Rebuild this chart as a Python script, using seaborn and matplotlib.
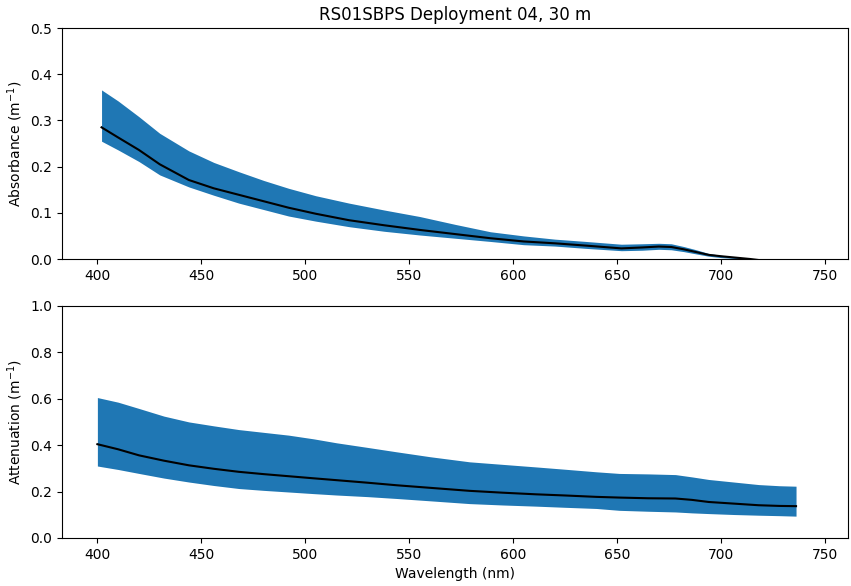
import matplotlib
matplotlib.use("Agg")
import matplotlib.pyplot as plt
import seaborn as sns
import numpy as np
import pandas as pd

# Absorbance (top panel)
abs_wl = [402, 410, 420, 430, 444, 456, 468, 480, 492, 505, 521, 538, 555, 572, 589,
          605, 620, 635, 652, 662, 670, 676, 682, 688, 694, 700, 707, 714, 725, 735]
abs_mean = [0.285, 0.263, 0.236, 0.205, 0.171, 0.153, 0.139, 0.125, 0.111, 0.098, 0.084,
            0.073, 0.063, 0.054, 0.045, 0.038, 0.034, 0.029, 0.023, 0.025, 0.027, 0.026,
            0.021, 0.015, 0.009, 0.006, 0.003, 0.0, -0.006, -0.012]
abs_upper = [0.366, 0.342, 0.308, 0.272, 0.234, 0.209, 0.189, 0.170, 0.153, 0.137, 0.121,
             0.106, 0.092, 0.075, 0.059, 0.050, 0.043, 0.038, 0.032, 0.033, 0.034, 0.033,
             0.027, 0.020, 0.012, 0.008, 0.004, 0.0, -0.004, -0.010]
abs_lower = [0.255, 0.236, 0.211, 0.182, 0.156, 0.138, 0.121, 0.107, 0.093, 0.082, 0.070,
             0.060, 0.052, 0.045, 0.038, 0.031, 0.028, 0.023, 0.018, 0.019, 0.021, 0.020,
             0.016, 0.011, 0.006, 0.003, 0.001, -0.002, -0.009, -0.015]

# Attenuation (bottom panel)
att_wl = [400, 410, 420, 432, 444, 456, 468, 480, 492, 504, 515, 530, 544, 560, 579,
          595, 611, 625, 640, 651, 665, 678, 686, 694, 706, 718, 728, 736]
att_mean = [0.404, 0.382, 0.356, 0.333, 0.313, 0.298, 0.285, 0.275, 0.266, 0.257, 0.249,
            0.238, 0.227, 0.216, 0.203, 0.195, 0.188, 0.183, 0.177, 0.174, 0.171, 0.170,
            0.164, 0.155, 0.148, 0.141, 0.138, 0.137]
att_upper = [0.605, 0.585, 0.558, 0.525, 0.500, 0.483, 0.467, 0.455, 0.443, 0.427, 0.410,
             0.390, 0.371, 0.350, 0.328, 0.317, 0.306, 0.296, 0.285, 0.278, 0.276, 0.273,
             0.263, 0.252, 0.241, 0.230, 0.225, 0.223]
att_lower = [0.310, 0.295, 0.278, 0.258, 0.241, 0.226, 0.213, 0.205, 0.198, 0.191, 0.185,
             0.178, 0.170, 0.160, 0.148, 0.142, 0.137, 0.132, 0.127, 0.119, 0.115, 0.112,
             0.108, 0.105, 0.101, 0.098, 0.096, 0.094]

title = "RS01SBPS Deployment 04, 30 m"

fig = plt.figure(figsize=(8.51, 5.86), dpi=100)
ax1 = fig.add_axes([0.0729, 0.558, 0.9236, 0.3942])
ax2 = fig.add_axes([0.0729, 0.082, 0.9236, 0.396])

band = "#1f77b4"

ax1.fill_between(abs_wl, abs_lower, abs_upper, color=band, linewidth=0)
sns.lineplot(x=abs_wl, y=abs_mean, ax=ax1, color="black", linewidth=1.5)
ax1.set_ylim(0, 0.5)
ax1.set_xlim(383, 761)
ax1.set_ylabel("Absorbance (m$^{-1}$)")
ax1.set_title(title)

ax2.fill_between(att_wl, att_lower, att_upper, color=band, linewidth=0)
sns.lineplot(x=att_wl, y=att_mean, ax=ax2, color="black", linewidth=1.5)
ax2.set_ylim(0, 1.0)
ax2.set_xlim(383, 761)
ax2.set_ylabel("Attenuation (m$^{-1}$)")
ax2.set_xlabel("Wavelength (nm)")

fig.savefig("out.png", dpi=100)
